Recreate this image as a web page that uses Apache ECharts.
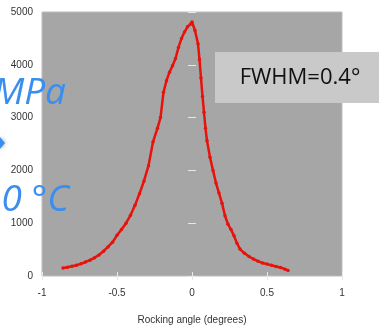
<!DOCTYPE html>
<html><head><meta charset="utf-8">
<script src="https://cdn.jsdelivr.net/npm/echarts@6/dist/echarts.min.js"></script>
<style>html,body{margin:0;padding:0;background:#fff}#c{width:379px;height:330px}</style>
</head><body><div id="c"></div>
<script>
var angles = [-0.86,-0.83,-0.80,-0.77,-0.74,-0.71,-0.68,-0.65,-0.62,-0.59,-0.56,-0.53,-0.50,-0.47,-0.44,-0.41,-0.38,-0.35,-0.32,-0.29,-0.26,-0.23,-0.21,-0.19,-0.17,-0.15,-0.13,-0.11,-0.09,-0.07,-0.05,-0.03,-0.01,0.00,0.02,0.04,0.05,0.06,0.07,0.08,0.09,0.10,0.12,0.14,0.16,0.18,0.20,0.22,0.24,0.26,0.28,0.30,0.32,0.35,0.38,0.41,0.44,0.47,0.50,0.53,0.56,0.59,0.62,0.64];
var intensity = [150,165,185,205,230,265,300,345,400,470,550,640,770,880,1000,1150,1340,1560,1800,2090,2540,2800,3000,3480,3700,3860,3980,4120,4330,4500,4620,4720,4770,4810,4650,4400,4100,3750,3400,3100,2800,2560,2250,2000,1760,1570,1380,1140,980,880,760,620,510,430,370,320,280,245,225,205,180,160,130,105];
var xTitle = 'Rocking angle (degrees)';
var annotation = 'FWHM=0.4°';
var overlay1 = 'MPa';
var overlay2 = '0 °C';

var pts = angles.map(function(a,i){return [a, intensity[i]];});
var chart = echarts.init(document.getElementById('c'));
var lblFont = {color:'#333', fontSize:10, fontFamily:'Liberation Sans, Arial, sans-serif'};
chart.setOption({
  animation:false,
  grid:{left:42,right:37,top:12,bottom:48,show:true,backgroundColor:'#a6a6a6',borderColor:'#bdbdbd',borderWidth:1},
  xAxis:[{type:'value',min:-1,max:1,interval:0.5,
    name:xTitle,nameLocation:'middle',nameGap:39,nameTextStyle:lblFont,
    axisLine:{show:false},axisTick:{show:true,inside:true,length:4,lineStyle:{color:'#e8e8e8'}},
    splitLine:{show:false},axisLabel:Object.assign({margin:12,formatter:function(v){return String(v);}},lblFont)},
    {type:'value',position:'top',min:-1,max:1,interval:0.5,axisLine:{show:false},
    axisTick:{show:true,inside:true,length:4,lineStyle:{color:'#e8e8e8'}},axisLabel:{show:false},splitLine:{show:false}}],
  yAxis:[{type:'value',min:0,max:5000,interval:1000,
    axisLine:{show:false},axisTick:{show:true,inside:true,length:4,lineStyle:{color:'#e8e8e8'}},
    splitLine:{show:false},axisLabel:Object.assign({margin:9,formatter:function(v){return String(v);}},lblFont)},
    {type:'value',position:'right',min:0,max:5000,interval:1000,axisLine:{show:false},
    axisTick:{show:true,inside:true,length:4,lineStyle:{color:'#e8e8e8'}},axisLabel:{show:false},splitLine:{show:false}}],
  series:[{type:'line',data:pts,symbol:'circle',symbolSize:3.5,showSymbol:true,showAllSymbol:true,
    lineStyle:{color:'#e8120c',width:2.5},itemStyle:{color:'#e8120c'}}],
  graphic:[
    {type:'rect',shape:{x:215,y:52,width:164,height:51},style:{fill:'#c9c9c9'},z:100},
    {type:'text',x:300,y:78,style:{text:annotation,fill:'#111',fontSize:22,fontFamily:'Open Sans, sans-serif',textAlign:'center',textVerticalAlign:'middle'},z:101},
    {type:'text',x:66,y:93,style:{text:overlay1,fill:'#3a8ef0',fontSize:37,fontStyle:'italic',fontFamily:'Open Sans, sans-serif',textAlign:'right',textVerticalAlign:'middle'},z:101},
    {type:'text',x:69,y:200,style:{text:overlay2,fill:'#3a8ef0',fontSize:37,fontStyle:'italic',fontFamily:'Open Sans, sans-serif',textAlign:'right',textVerticalAlign:'middle'},z:101},
    {type:'polygon',shape:{points:[[0,137],[5,143],[0,149]]},style:{fill:'#3a8ef0',shadowBlur:4,shadowColor:'rgba(0,0,0,0.4)'},z:101}
  ]
});
</script></body></html>
